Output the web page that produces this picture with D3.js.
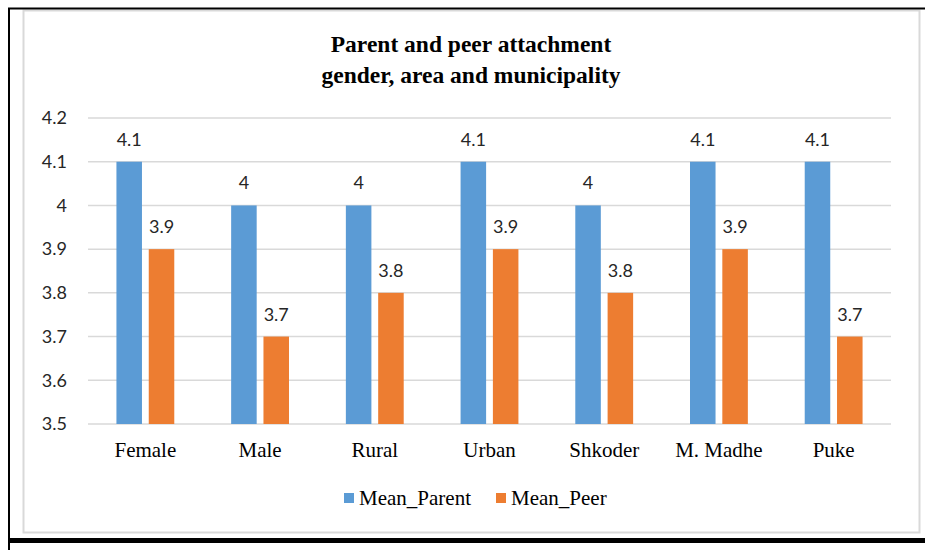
<!DOCTYPE html>
<html>
<head>
<meta charset="utf-8">
<script src="https://cdn.jsdelivr.net/npm/d3@7"></script>
<style>
    body { margin: 0; background: #fff; }
    svg { display: block; }
</style>
</head>
<body>
<div id="chart"></div>
<script>
// chart data
const categories = ['Female', 'Male', 'Rural', 'Urban', 'Shkoder', 'M. Madhe', 'Puke'];
const seriesNames = ['Mean_Parent', 'Mean_Peer'];
const meanParent = [4.1, 4, 4, 4.1, 4, 4.1, 4.1];
const meanPeer = [3.9, 3.7, 3.8, 3.9, 3.8, 3.9, 3.7];
const yTicks = [3.5, 3.6, 3.7, 3.8, 3.9, 4, 4.1, 4.2];
const titleLines = ['Parent and peer attachment', 'gender, area and municipality'];

const colors = { Mean_Parent: '#5b9bd5', Mean_Peer: '#ed7d31' };
const valuesBySeries = { Mean_Parent: meanParent, Mean_Peer: meanPeer };

const W = 925, H = 550;
const plot = { left: 88, right: 891, top: 118, bottom: 424 };
const sansFont = 'Lato, "Liberation Sans", sans-serif';
const serifFont = '"Liberation Serif", "Times New Roman", serif';

const svg = d3.select('#chart').append('svg')
    .attr('width', W)
    .attr('height', H);

// frame: outer black lines and inner grey chart border
svg.append('rect')
    .attr('x', 23.5).attr('y', 10.5)
    .attr('width', 896).attr('height', 522)
    .attr('fill', 'none')
    .attr('stroke', '#d9d9d9')
    .attr('stroke-width', 2);
svg.append('line')
    .attr('x1', 8).attr('x2', W).attr('y1', 8.5).attr('y2', 8.5)
    .attr('stroke', '#000').attr('stroke-width', 2);
svg.append('line')
    .attr('x1', 9).attr('x2', 9).attr('y1', 8).attr('y2', H)
    .attr('stroke', '#000').attr('stroke-width', 2);
svg.append('line')
    .attr('x1', 8).attr('x2', W).attr('y1', 540.5).attr('y2', 540.5)
    .attr('stroke', '#000').attr('stroke-width', 5);

// scales
const x0 = d3.scaleBand()
    .domain(categories)
    .range([plot.left, plot.right]);

const x1 = d3.scaleBand()
    .domain(seriesNames)
    .range([0, x0.bandwidth()])
    .paddingInner(0.21)
    .paddingOuter(0.88);

const y = d3.scaleLinear()
    .domain([3.5, 4.2])
    .range([plot.bottom, plot.top]);

// gridlines
svg.append('g')
    .selectAll('line')
    .data(yTicks)
    .enter().append('line')
    .attr('x1', plot.left)
    .attr('x2', plot.right)
    .attr('y1', d => y(d))
    .attr('y2', d => y(d))
    .attr('stroke', '#d9d9d9')
    .attr('stroke-width', 1.5);

// y axis labels
const yAxis = d3.axisLeft(y)
    .tickValues(yTicks)
    .tickFormat(d3.format('~g'))
    .tickSize(0)
    .tickPadding(0);

svg.append('g')
    .attr('transform', 'translate(67,0)')
    .call(yAxis)
    .call(g => g.select('.domain').remove())
    .selectAll('text')
    .attr('font-family', sansFont)
    .attr('font-size', 18)
    .attr('fill', '#262626');

// bars
const groups = svg.append('g')
    .selectAll('g')
    .data(categories)
    .enter().append('g')
    .attr('transform', d => 'translate(' + x0(d) + ',0)');

const barData = (c, i) => seriesNames.map(s => ({ series: s, value: valuesBySeries[s][i] }));

groups.selectAll('rect')
    .data(barData)
    .enter().append('rect')
    .attr('x', d => x1(d.series))
    .attr('width', x1.bandwidth())
    .attr('y', d => y(d.value))
    .attr('height', d => y(3.5) - y(d.value))
    .attr('fill', d => colors[d.series]);

// value labels
groups.selectAll('text')
    .data(barData)
    .enter().append('text')
    .attr('x', d => x1(d.series) + x1.bandwidth() / 2)
    .attr('y', d => y(d.value) - 16)
    .attr('text-anchor', 'middle')
    .attr('font-family', sansFont)
    .attr('font-size', 18)
    .attr('fill', '#262626')
    .text(d => d3.format('~g')(d.value));

// x axis labels
const xAxis = d3.axisBottom(x0).tickSize(0).tickPadding(0);
svg.append('g')
    .attr('transform', 'translate(0,' + plot.bottom + ')')
    .call(xAxis)
    .call(g => g.select('.domain').remove())
    .selectAll('text')
    .attr('dy', null)
    .attr('y', 33)
    .attr('font-family', serifFont)
    .attr('font-size', 21)
    .attr('fill', '#000');

// title
svg.append('text')
    .attr('x', 471)
    .attr('y', 52)
    .attr('text-anchor', 'middle')
    .attr('font-family', serifFont)
    .attr('font-size', 23.5)
    .attr('font-weight', 'bold')
    .selectAll('tspan')
    .data(titleLines)
    .enter().append('tspan')
    .attr('x', 471)
    .attr('dy', (d, i) => i === 0 ? 0 : 31)
    .text(d => d);

// legend
const legendX = [344, 496];
const legend = svg.append('g')
    .selectAll('g')
    .data(seriesNames)
    .enter().append('g')
    .attr('transform', (d, i) => 'translate(' + legendX[i] + ',493)');

legend.append('rect')
    .attr('width', 10)
    .attr('height', 10)
    .attr('fill', d => colors[d]);

legend.append('text')
    .attr('x', 15)
    .attr('y', 12)
    .attr('font-family', serifFont)
    .attr('font-size', 21)
    .attr('fill', '#000')
    .text(d => d);
</script>
</body>
</html>
